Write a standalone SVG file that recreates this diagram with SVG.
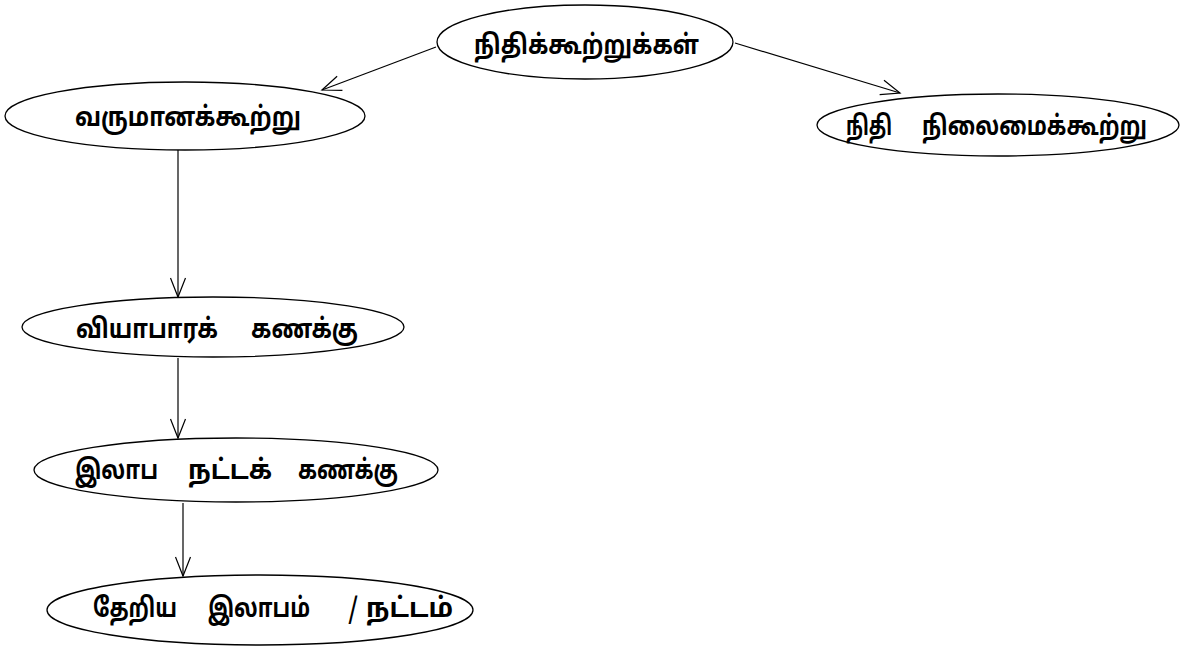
<svg xmlns="http://www.w3.org/2000/svg" width="1189" height="648" viewBox="0 0 1189 648">
<style>
  .node ellipse { fill: #ffffff; stroke: #000000; stroke-width: 1.3; }
  .node text { font-family: "Noto Sans Tamil", "Lohit Tamil", "Latha", "Noto Sans", "DejaVu Sans", sans-serif; font-weight: bold; font-size: 27px; fill: #000000; }
  .edges line { stroke: #000000; stroke-width: 1.2; fill: none; }
</style>
<defs>
  <marker id="arr" markerUnits="userSpaceOnUse" markerWidth="26" markerHeight="20" refX="20" refY="9" orient="auto">
    <path d="M1,1.5 L20,9 L1,16.5" fill="none" stroke="#000000" stroke-width="1.2"/>
  </marker>
</defs>
<rect width="1189" height="648" fill="#ffffff"/>
<g class="edges">
  <line x1="436" y1="47" x2="322" y2="90" marker-end="url(#arr)"/>
  <line x1="735" y1="43" x2="900" y2="93" marker-end="url(#arr)"/>
  <line x1="178" y1="150" x2="178" y2="297" marker-end="url(#arr)"/>
  <line x1="178" y1="358" x2="178" y2="438" marker-end="url(#arr)"/>
  <line x1="183" y1="503" x2="183" y2="576" marker-end="url(#arr)"/>
</g>
<g id="node-nithikkootrukkal" class="node">
  <ellipse cx="585" cy="42" rx="148" ry="37"/>
  <text x="474" y="54" textLength="225" lengthAdjust="spacingAndGlyphs">நிதிக்கூற்றுக்கள்</text>
</g>
<g id="node-varumanakkootru" class="node">
  <ellipse cx="185" cy="116" rx="180" ry="34"/>
  <text x="75" y="126" textLength="226" lengthAdjust="spacingAndGlyphs">வருமானக்கூற்று</text>
</g>
<g id="node-nithi-nilaimai" class="node">
  <ellipse cx="998" cy="125" rx="181" ry="31"/>
  <text y="135"><tspan x="846" textLength="46" lengthAdjust="spacingAndGlyphs">நிதி</tspan><tspan x="922" textLength="225" lengthAdjust="spacingAndGlyphs">நிலைமைக்கூற்று</tspan></text>
</g>
<g id="node-viyabara" class="node">
  <ellipse cx="213" cy="327" rx="191" ry="30"/>
  <text y="338"><tspan x="76" textLength="142" lengthAdjust="spacingAndGlyphs">வியாபாரக்</tspan><tspan x="251" textLength="107" lengthAdjust="spacingAndGlyphs">கணக்கு</tspan></text>
</g>
<g id="node-ilaba-nattak" class="node">
  <ellipse cx="236" cy="470" rx="202" ry="32"/>
  <text y="479"><tspan x="75" textLength="83" lengthAdjust="spacingAndGlyphs">இலாப</tspan><tspan x="188" textLength="84" lengthAdjust="spacingAndGlyphs">நட்டக்</tspan><tspan x="298" textLength="100" lengthAdjust="spacingAndGlyphs">கணக்கு</tspan></text>
</g>
<g id="node-theriya" class="node">
  <ellipse cx="260" cy="610" rx="213" ry="35"/>
  <text y="617"><tspan x="93" textLength="84" lengthAdjust="spacingAndGlyphs">தேறிய</tspan><tspan x="208" textLength="102" lengthAdjust="spacingAndGlyphs">இலாபம்</tspan><tspan x="348" font-weight="normal" textLength="10" lengthAdjust="spacingAndGlyphs">/</tspan><tspan x="366" textLength="87" lengthAdjust="spacingAndGlyphs">நட்டம்</tspan></text>
</g>
</svg>
